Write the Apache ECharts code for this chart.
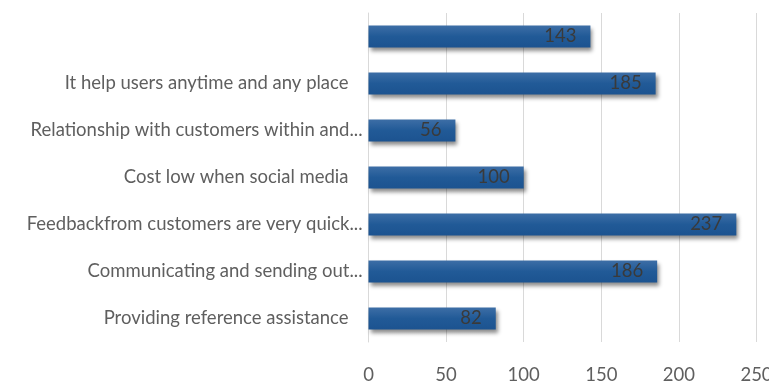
<!DOCTYPE html>
<html>
<head>
<meta charset="utf-8">
<script src="https://cdn.jsdelivr.net/npm/echarts@6/dist/echarts.min.js"></script>
<style>
  html, body { margin: 0; padding: 0; background: #ffffff; }
  #chart { width: 769px; height: 384px; }
</style>
</head>
<body>
<div id="chart"></div>
<script>
// Categories listed bottom to top (category axis runs upward)
const categories = [
  'Providing reference assistance ',
  'Communicating and sending out...',
  'Feedbackfrom customers are very quick...',
  'Cost low when social media ',
  'Relationship with customers within and...',
  'It help users anytime and any place ',
  ''
];
const counts = [82, 186, 237, 100, 56, 185, 143];
const xTicks = { min: 0, max: 250, interval: 50 };

const FONT = 'Lato';
const SIZE = 18.5;

const chart = echarts.init(document.getElementById('chart'), null, { renderer: 'canvas' });

chart.setOption({
  animation: false,
  backgroundColor: '#ffffff',
  grid: {
    left: 368.5, right: 12.5, top: 13, bottom: 42,
    containLabel: false,
    outerBoundsMode: 'none'
  },
  xAxis: {
    type: 'value',
    min: xTicks.min,
    max: xTicks.max,
    interval: xTicks.interval,
    axisLine: { show: false },
    axisTick: { show: false },
    splitLine: { show: true, lineStyle: { color: '#d9d9d9', width: 1 } },
    axisLabel: {
      margin: 24,
      color: '#5f5f5f',
      fontFamily: FONT,
      fontSize: SIZE
    }
  },
  yAxis: {
    type: 'category',
    data: categories,
    axisLine: { show: true, lineStyle: { color: '#d9d9d9' } },
    axisTick: { show: false },
    splitLine: { show: false },
    axisLabel: {
      margin: 6,
      color: '#5f5f5f',
      fontFamily: FONT,
      fontSize: SIZE,
      formatter: function (v) {
        return v.endsWith(' ') ? '{t|' + v.trim() + '}' : v;
      },
      rich: {
        t: { padding: [0, 14, 0, 0], color: '#5f5f5f', fontFamily: FONT, fontSize: SIZE }
      }
    }
  },
  series: [{
    type: 'bar',
    data: counts,
    barWidth: 22,
    itemStyle: {
      color: new echarts.graphic.LinearGradient(0, 0, 0, 1, [
        { offset: 0, color: '#3d6ea6' },
        { offset: 0.5, color: '#215a97' },
        { offset: 1, color: '#1c5390' }
      ]),
      shadowColor: 'rgba(0,0,0,0.45)',
      shadowBlur: 4,
      shadowOffsetX: 2,
      shadowOffsetY: 3
    },
    label: {
      show: true,
      position: 'insideRight',
      distance: 14,
      color: '#3a3a3a',
      fontFamily: FONT,
      fontSize: SIZE
    }
  }]
});
</script>
</body>
</html>
